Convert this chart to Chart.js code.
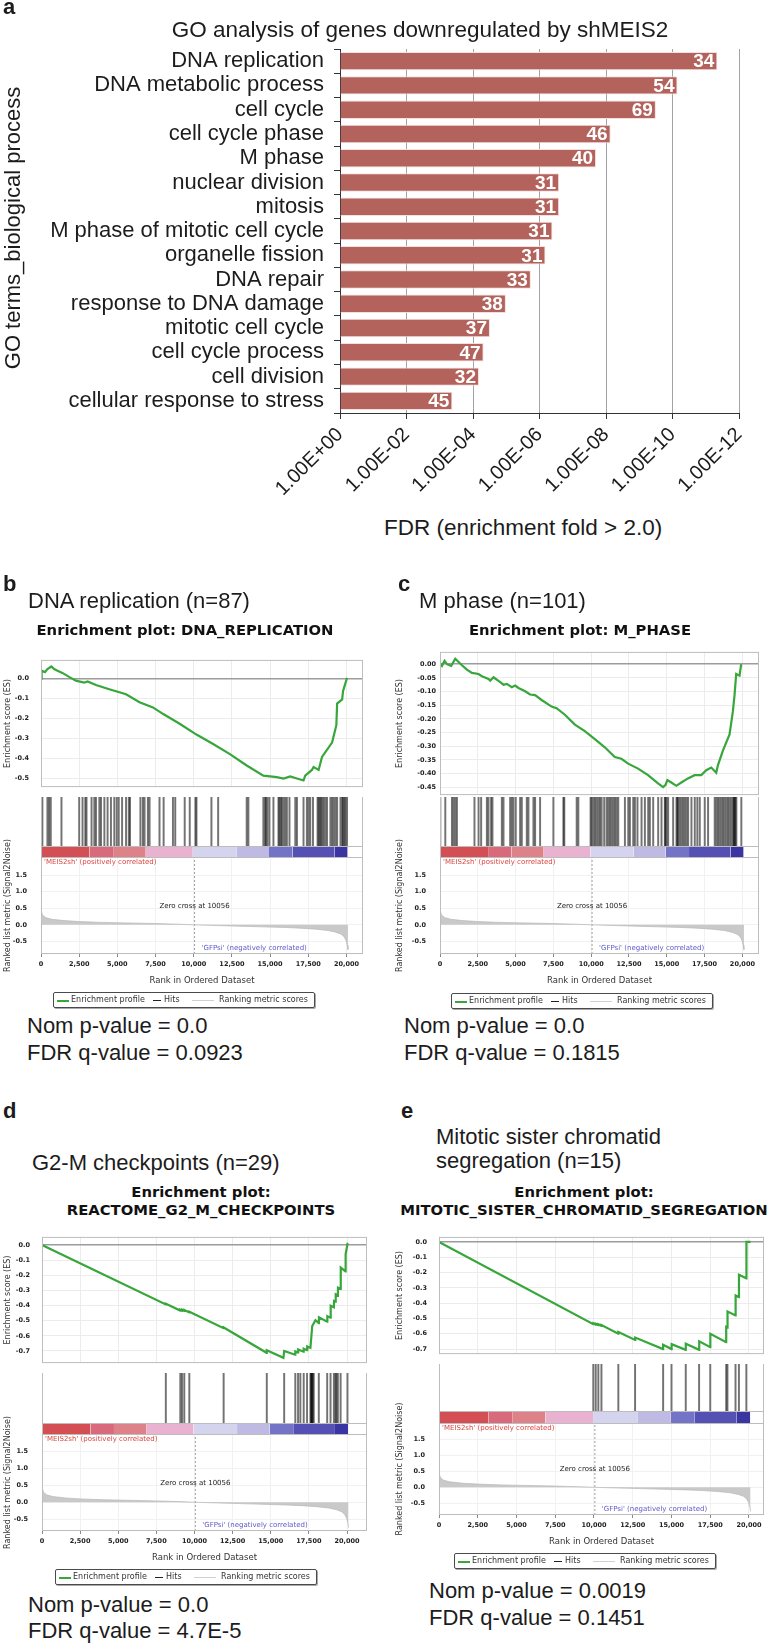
<!DOCTYPE html>
<html>
<head>
<meta charset="utf-8">
<title>GO analysis and GSEA plots (shMEIS2)</title>
<script src="https://cdn.jsdelivr.net/npm/chart.js@4.4.1/dist/chart.umd.min.js"></script>
<style>
  html, body { margin: 0; padding: 0; background: #fff; }
  #fig { position: relative; width: 772px; height: 1647px; overflow: hidden; font-family: "Liberation Sans", Arial, Helvetica, sans-serif; color: #1c1c1c; }
  #fig canvas { position: absolute; }
  .txt { position: absolute; white-space: nowrap; line-height: 1; }
  .big { font-size: 22px; }
  .tag { font-size: 22px; font-weight: bold; }
  .plotTitle { width: 420px; text-align: center; font-family: "DejaVu Sans", sans-serif; font-weight: bold; font-size: 14.8px; line-height: 18px; color: #111; }
  .legend { position: absolute; width: 260px; height: 14px; border: 1px solid #4a4a4a; border-radius: 2px; box-shadow: 1px 1px 0 #aaa; font-family: "DejaVu Sans", sans-serif; font-size: 8px; color: #333; background: #fff; }
  .legend span { position: absolute; }
  .legend .sw { top: 7px; }
  .legend .lt { top: 2px; line-height: 10px; white-space: nowrap; }
</style>
</head>
<body>
<div id="fig"></div>
<script>
// ---- Panel a: GO terms, -log10(FDR) and gene counts ----
const goTerms = ["DNA replication", "DNA metabolic process", "cell cycle", "cell cycle phase", "M phase",
  "nuclear division", "mitosis", "M phase of mitotic cell cycle", "organelle fission", "DNA repair",
  "response to DNA damage", "mitotic cell cycle", "cell cycle process", "cell division", "cellular response to stress"];
const goLogFdr = [11.35, 10.15, 9.50, 8.14, 7.70, 6.59, 6.59, 6.39, 6.18, 5.74, 4.99, 4.51, 4.32, 4.18, 3.38];
const goGeneCounts = [34, 54, 69, 46, 40, 31, 31, 31, 31, 33, 38, 37, 47, 32, 45];
const fdrTicks = [0, 2, 4, 6, 8, 10, 12];
const fdrLabels = ["1.00E+00", "1.00E-02", "1.00E-04", "1.00E-06", "1.00E-08", "1.00E-10", "1.00E-12"];

// ---- GSEA: shared ranked list ----
const rankTicks = [0, 2500, 5000, 7500, 10000, 12500, 15000, 17500, 20000];
const metricTicks = [-0.5, 0, 0.5, 1.0, 1.5];
const zeroCross = 10056;
const metricRanks = [0, 30, 100, 300, 700, 1500, 2500, 4000, 5500, 7500, 9000, 10056, 11500, 13000, 14500, 16000, 17000, 18000, 18800, 19300, 19650, 19850, 19980, 20060, 20100];
const metricValues = [0.55, 0.40, 0.30, 0.22, 0.17, 0.13, 0.10, 0.075, 0.06, 0.04, 0.02, 0, -0.02, -0.04, -0.06, -0.08, -0.10, -0.13, -0.17, -0.22, -0.28, -0.36, -0.48, -0.62, -0.75];
const cbEdges = [0, 3180, 4720, 6860, 9940, 12790, 14930, 16470, 19210, 20080];
const cbColors = ["#d44f53", "#d96a7b", "#de8289", "#e9b2d0", "#d4d4ee", "#bebae4", "#7373c7", "#5551b4", "#3a35a3"];

// b: DNA replication
const esRanksB = [0, 40, 260, 420, 680, 860, 1080, 1400, 1840, 2280, 2830, 3050, 3600, 4470, 5570, 6450, 7330, 7980, 9080, 10180, 11270, 12370, 13470, 14560, 15440, 15880, 16320, 16760, 17190, 17300, 17740, 17850, 18180, 18400, 19060, 19340, 19390, 19720, 19780, 20040];
const esValuesB = [0, 0.040, 0.033, 0.048, 0.061, 0.048, 0.040, 0.029, 0.009, -0.010, -0.020, -0.014, -0.032, -0.053, -0.078, -0.118, -0.144, -0.176, -0.226, -0.280, -0.327, -0.378, -0.435, -0.486, -0.493, -0.500, -0.490, -0.500, -0.510, -0.486, -0.457, -0.442, -0.457, -0.392, -0.320, -0.233, -0.125, -0.104, -0.061, 0.004];
const hitsB = [0, 90, 420, 530, 640, 1340, 2500, 2720, 2900, 2980, 3310, 3490, 3600, 3820, 3930, 4150, 4360, 4580, 4800, 4960, 5090, 5310, 5570, 5750, 5830, 6510, 6670, 6780, 7000, 7110, 7760, 8030, 8640, 8790, 9410, 9740, 10110, 10180, 11160, 11600, 13470, 13580, 14560, 14670, 14740, 14830, 14960, 15220, 15550, 15610, 15700, 15770, 15880, 15990, 16100, 16270, 16650, 16760, 17190, 17410, 17520, 17630, 17810, 18110, 18180, 18250, 18330, 18420, 18510, 18620, 18730, 18950, 19060, 19170, 19280, 19390, 19610, 19720, 19780, 19870, 19930, 20040];

// c: M phase
const esRanksC = [0, 130, 300, 460, 740, 1010, 1230, 1450, 1780, 2110, 2550, 2770, 3210, 3320, 3540, 3980, 4200, 4420, 4750, 4970, 5190, 5630, 5960, 6290, 6720, 7380, 7710, 8260, 8920, 9580, 10240, 10900, 11560, 12000, 12440, 13100, 13760, 14420, 14750, 14910, 15040, 15300, 15630, 15960, 16400, 16840, 17280, 17610, 17940, 18270, 18380, 18710, 19150, 19370, 19480, 19590, 19810, 19920];
const esValuesC = [0.004, -0.006, 0.012, 0.000, -0.006, 0.020, 0.008, -0.004, -0.020, -0.032, -0.036, -0.044, -0.054, -0.060, -0.048, -0.066, -0.075, -0.072, -0.084, -0.078, -0.087, -0.099, -0.111, -0.113, -0.131, -0.155, -0.161, -0.185, -0.221, -0.245, -0.274, -0.304, -0.340, -0.346, -0.364, -0.382, -0.406, -0.436, -0.450, -0.442, -0.424, -0.433, -0.445, -0.433, -0.418, -0.406, -0.406, -0.388, -0.378, -0.397, -0.370, -0.316, -0.257, -0.173, -0.113, -0.036, -0.042, 0.000];
const hitsC = [20, 350, 790, 900, 1010, 1120, 2280, 2550, 2720, 3100, 3210, 3380, 3470, 4090, 4200, 4640, 4750, 4860, 5010, 5300, 5410, 5740, 5850, 6180, 6290, 6620, 7500, 8160, 8220, 9040, 9150, 9960, 10030, 10140, 10250, 10360, 10470, 10580, 10690, 10860, 11020, 11130, 11240, 11350, 11460, 11570, 11680, 11790, 12230, 12450, 12560, 12780, 12890, 13060, 13330, 13550, 13770, 13880, 14100, 14430, 14650, 14870, 14910, 14980, 15090, 15420, 15640, 15700, 15750, 15860, 15970, 16080, 16190, 16300, 16410, 16630, 16850, 17020, 17180, 17510, 17730, 18170, 18280, 18390, 18500, 18610, 18720, 18830, 18940, 19050, 19160, 19270, 19380, 19440, 19490, 19530, 19600, 19930];

// d: G2-M checkpoints
const esRanksD = [0, 8120, 8125, 9065, 9070, 9180, 9185, 9330, 9335, 9660, 9665, 11910, 11915, 14730, 14740, 15830, 15880, 16600, 16610, 16790, 16800, 17150, 17160, 17380, 17390, 17600, 17720, 17930, 18150, 18160, 18700, 18710, 18920, 18930, 19140, 19150, 19250, 19260, 19400, 19410, 19580, 19590, 19900, 19910, 20030, 20100];
const esValuesD = [0, -0.393, -0.388, -0.433, -0.428, -0.433, -0.428, -0.435, -0.430, -0.446, -0.441, -0.550, -0.545, -0.712, -0.695, -0.745, -0.700, -0.725, -0.703, -0.710, -0.690, -0.705, -0.685, -0.695, -0.670, -0.680, -0.535, -0.497, -0.516, -0.478, -0.507, -0.470, -0.480, -0.402, -0.412, -0.370, -0.375, -0.326, -0.333, -0.282, -0.290, -0.150, -0.175, -0.060, 0.005, 0.0];
const hitsD = [8120, 9070, 9180, 9330, 9660, 11910, 14740, 15880, 16610, 16790, 16940, 17160, 17380, 17600, 17650, 17680, 17710, 17750, 17820, 18150, 18700, 18920, 19140, 19250, 19300, 19400, 19580, 20030];

// e: Mitotic sister chromatid segregation
const esRanksE = [0, 9955, 9960, 10111, 10116, 10281, 10286, 10477, 10482, 11566, 11571, 12655, 12660, 14455, 14460, 15003, 15008, 15916, 15921, 16784, 16789, 17501, 17506, 18525, 18530, 18610, 18615, 19132, 19137, 19348, 19353, 19830, 19835, 20100];
const esValuesE = [0, -0.537, -0.532, -0.540, -0.535, -0.543, -0.538, -0.548, -0.543, -0.600, -0.588, -0.640, -0.625, -0.700, -0.672, -0.700, -0.668, -0.705, -0.665, -0.705, -0.650, -0.688, -0.600, -0.655, -0.555, -0.560, -0.455, -0.480, -0.350, -0.360, -0.215, -0.238, 0.0, 0.0];
const hitsE = [9955, 10110, 10280, 10480, 11570, 12650, 14460, 15000, 15920, 16780, 17500, 18530, 18610, 19130, 19350, 19830];

const GREEN = "#37a63b";
const fig = document.getElementById("fig");

Chart.defaults.font.family = "'Liberation Sans', Arial, sans-serif";
Chart.defaults.color = "#1c1c1c";
Chart.defaults.animation = false;
Chart.defaults.responsive = false;
Chart.defaults.devicePixelRatio = 1;
Chart.defaults.plugins.legend.display = false;
Chart.defaults.plugins.tooltip.enabled = false;

// Draws plot box sides and extra horizontal rules (at y values)
Chart.register({
  id: "frame",
  afterDatasetsDraw(chart, args, opts) {
    if (!opts.color) return;
    const { ctx, chartArea: a } = chart;
    const sides = opts.sides || "";
    ctx.save();
    ctx.strokeStyle = opts.color;
    ctx.lineWidth = 1;
    ctx.beginPath();
    if (sides.includes("t")) { ctx.moveTo(a.left, a.top + 0.5); ctx.lineTo(a.right, a.top + 0.5); }
    if (sides.includes("b")) { ctx.moveTo(a.left, a.bottom - 0.5); ctx.lineTo(a.right, a.bottom - 0.5); }
    if (sides.includes("l")) { ctx.moveTo(a.left + 0.5, a.top); ctx.lineTo(a.left + 0.5, a.bottom); }
    if (sides.includes("r")) { ctx.moveTo(a.right - 0.5, a.top); ctx.lineTo(a.right - 0.5, a.bottom); }
    (opts.hlines || []).forEach(v => {
      const y = Math.round(chart.scales.y.getPixelForValue(v)) + 0.5;
      ctx.moveTo(a.left, y); ctx.lineTo(a.right, y);
    });
    ctx.stroke();
    ctx.restore();
  }
});

// Gene counts written at the end of each GO bar
Chart.register({
  id: "countLabels",
  afterDatasetsDraw(chart, args, opts) {
    if (!opts.values) return;
    const { ctx } = chart;
    ctx.save();
    ctx.font = "bold 19px 'Liberation Sans', Arial, sans-serif";
    ctx.fillStyle = "#fff";
    ctx.textAlign = "right";
    ctx.textBaseline = "middle";
    chart.getDatasetMeta(0).data.forEach((bar, i) => ctx.fillText(String(opts.values[i]), bar.x - 3, bar.y + 1));
    ctx.restore();
  }
});

// Phenotype labels and zero-cross note in the ranked list plot
Chart.register({
  id: "notes",
  afterDatasetsDraw(chart, args, opts) {
    if (!opts.zero) return;
    const { ctx, chartArea: a, scales: { x, y } } = chart;
    const zx = x.getPixelForValue(opts.zero);
    ctx.save();
    ctx.font = "7px 'DejaVu Sans', sans-serif";
    ctx.textBaseline = "middle";
    ctx.textAlign = "left";
    ctx.fillStyle = "#d8453f";
    ctx.fillText("'MEIS2sh' (positively correlated)", a.left + 3, a.top + 5);
    ctx.fillStyle = "#5b5bc9";
    ctx.fillText("'GFPsi' (negatively correlated)", zx + 7, a.bottom - 6);
    ctx.fillStyle = "#222";
    ctx.textAlign = "center";
    ctx.fillText("Zero cross at " + opts.zero, zx, y.getPixelForValue(0.55));
    ctx.restore();
  }
});

function addCanvas(left, top, width, height) {
  const cv = document.createElement("canvas");
  cv.width = width; cv.height = height;
  cv.style.left = left + "px"; cv.style.top = top + "px";
  cv.style.width = width + "px"; cv.style.height = height + "px";
  fig.appendChild(cv);
  return cv;
}

function addText(html, left, top, cls, style) {
  const d = document.createElement("div");
  d.className = "txt " + cls;
  d.innerHTML = html;
  d.style.left = left + "px";
  d.style.top = top + "px";
  if (style) Object.assign(d.style, style);
  fig.appendChild(d);
  return d;
}

function addLegend(left, top) {
  const box = document.createElement("div");
  box.className = "legend";
  box.style.left = left + "px";
  box.style.top = top + "px";
  box.innerHTML =
    '<span class="sw" style="left:3px;width:12px;height:2px;background:' + GREEN + '"></span>' +
    '<span class="lt" style="left:17px">Enrichment profile</span>' +
    '<span class="sw" style="left:99px;width:8px;height:1px;background:#222"></span>' +
    '<span class="lt" style="left:110px">Hits</span>' +
    '<span class="sw" style="left:138px;width:22px;height:1px;background:#d0d0d0"></span>' +
    '<span class="lt" style="left:165px">Ranking metric scores</span>';
  fig.appendChild(box);
}

// ---- Panel a ----
new Chart(addCanvas(0, 0, 772, 500), {
  type: "bar",
  data: {
    labels: goTerms,
    datasets: [{ data: goLogFdr, backgroundColor: "#b4625c", borderColor: "#f3e0de", borderWidth: 1, barPercentage: 0.76, categoryPercentage: 1 }]
  },
  options: {
    indexAxis: "y",
    layout: { autoPadding: false, padding: { top: 49, right: 33, bottom: 0, left: 0 } },
    scales: {
      x: {
        min: 0, max: 12,
        afterBuildTicks: s => { s.ticks = fdrTicks.map(v => ({ value: v })); },
        ticks: { font: { size: 20 }, color: "#1c1c1c", minRotation: 45, maxRotation: 45, padding: 4, autoSkip: false, callback: (v, i) => fdrLabels[i] },
        grid: { color: "#a3a3a3", tickColor: "#333", tickLength: 6 },
        border: { color: "#333" },
        afterFit: s => { s.height = 87; }
      },
      y: {
        ticks: { font: { size: 22 }, color: "#1c1c1c", padding: 10, autoSkip: false },
        grid: { drawOnChartArea: false, tickColor: "#333", tickLength: 6 },
        border: { color: "#333" },
        afterFit: s => { s.width = 340; }
      }
    },
    plugins: { countLabels: { values: goGeneCounts } }
  }
});

addText("a", 3, -4, "tag");
addText("GO analysis of genes downregulated by shMEIS2", 420, 19, "big", { fontSize: "22.5px", transform: "translateX(-50%)" });
addText("GO terms_biological process", 13, 228, "big", { transform: "translate(-50%, -50%) rotate(-90deg)" });
addText("FDR (enrichment fold &gt; 2.0)", 384, 517, "big", { fontSize: "22.5px" });

// ---- GSEA panels: running ES, hit marks with colour bar, ranked metric ----
function gseaPanel(p) {
  const colW = 386;
  const axisW = p.L - p.col;
  const padR = p.col + colW - p.R;
  const smallBold = { family: "'DejaVu Sans', sans-serif", size: 6.5, weight: "bold" };
  const titleFont = { family: "'DejaVu Sans', sans-serif", size: 8 };
  const rankAxis = extra => Object.assign({
    type: "linear", min: 0, max: p.rankMax, offset: false,
    afterBuildTicks: s => { s.ticks = rankTicks.map(v => ({ value: v })); }
  }, extra);

  new Chart(addCanvas(p.col, p.esTop - 6, colW, p.esBot - p.esTop + 12), {
    type: "line",
    data: { datasets: [{ data: p.esRanks.map((r, i) => ({ x: r, y: p.esValues[i] })), borderColor: GREEN, borderWidth: 2.2, pointRadius: 0 }] },
    options: {
      layout: { autoPadding: false, padding: { top: 6, bottom: 6, left: 0, right: padR } },
      scales: {
        x: rankAxis({ ticks: { display: false }, grid: { color: "#ececec", drawTicks: false }, border: { display: false }, afterFit: s => { s.height = 0; } }),
        y: {
          min: p.esMin, max: p.esMax,
          afterBuildTicks: s => { s.ticks = p.esTicks.map(v => ({ value: v })); },
          ticks: { font: smallBold, color: "#222", padding: p.esPad, autoSkip: false, callback: v => v.toFixed(p.esDigits) },
          grid: {
            drawTicks: false,
            color: c => (c.tick && c.tick.value === 0 ? "#9c9c9c" : "#ececec"),
            lineWidth: c => (c.tick && c.tick.value === 0 ? 1.5 : 1)
          },
          border: { display: false },
          title: { display: true, text: "Enrichment score (ES)", font: titleFont, color: "#333", padding: { top: p.titlePad, bottom: 0 } },
          afterFit: s => { s.width = axisW; }
        }
      },
      plugins: { frame: { color: "#bdbdbd", sides: "tlrb" } }
    }
  });

  const cbFrac = (p.cbBot - p.hitBot) / (p.cbBot - p.esBot);
  new Chart(addCanvas(p.col, p.esBot, colW, p.cbBot - p.esBot), {
    type: "bar",
    data: {
      datasets: [
        { data: p.hits.map(r => ({ x: r, y: [cbFrac, 1] })), backgroundColor: "rgba(0,0,0,0.55)", barThickness: 1.3, grouped: false },
        ...cbColors.map((c, i) => ({
          type: "line",
          data: [{ x: cbEdges[i], y: cbFrac }, { x: cbEdges[i + 1], y: cbFrac }],
          fill: { value: 0 }, backgroundColor: c, borderWidth: 0, pointRadius: 0
        }))
      ]
    },
    options: {
      layout: { autoPadding: false, padding: { top: 0, bottom: 0, left: axisW, right: padR } },
      scales: { x: rankAxis({ display: false }), y: { min: 0, max: 1, display: false } },
      plugins: { frame: { color: "#bdbdbd", sides: "lr", hlines: [cbFrac] } }
    }
  });

  new Chart(addCanvas(p.col, p.esBot, colW, p.rkBot - p.esBot + 32), {
    type: "line",
    data: {
      datasets: [
        { data: metricRanks.map((r, i) => ({ x: r, y: metricValues[i] })), fill: "origin", backgroundColor: "#c9c9c9", borderColor: "#b8b8b8", borderWidth: 0.7, pointRadius: 0 },
        { data: [{ x: zeroCross, y: p.rkMin }, { x: zeroCross, y: p.rkMax }], borderColor: "#a0a0a0", borderWidth: 1, borderDash: [2, 2], pointRadius: 0 }
      ]
    },
    options: {
      layout: { autoPadding: false, padding: { top: p.cbBot - p.esBot, bottom: 0, left: 0, right: padR } },
      scales: {
        x: rankAxis({
          ticks: { font: smallBold, color: "#222", padding: 3, autoSkip: false, maxRotation: 0, callback: v => v.toLocaleString("en-US") },
          grid: { color: "#f1f1f1", tickLength: 3, tickColor: "#888" },
          border: { display: false },
          title: { display: true, text: "Rank in Ordered Dataset", font: { family: "'DejaVu Sans', sans-serif", size: 8.5 }, color: "#333", padding: 0 },
          afterFit: s => { s.height = 32; }
        }),
        y: {
          min: p.rkMin, max: p.rkMax,
          afterBuildTicks: s => { s.ticks = metricTicks.map(v => ({ value: v })); },
          ticks: { font: smallBold, color: "#222", padding: p.rkPad, autoSkip: false, callback: v => v.toFixed(1) },
          grid: { drawTicks: false, color: "#f1f1f1" },
          border: { display: false },
          title: { display: true, text: "Ranked list metric (Signal2Noise)", font: titleFont, color: "#333", padding: { top: p.titlePad, bottom: 0 } },
          afterFit: s => { s.width = axisW; }
        }
      },
      plugins: { frame: { color: "#bdbdbd", sides: "tlrb" }, notes: { zero: zeroCross } }
    }
  });
}

gseaPanel({ col: 0, L: 41, R: 363, rankMax: 21085, esTop: 650, esBot: 797, hitBot: 846, cbBot: 857, rkBot: 954,
  esMin: -0.543, esMax: 0.094, esTicks: [0, -0.1, -0.2, -0.3, -0.4, -0.5], esDigits: 1, rkMin: -0.88, rkMax: 2.05,
  esPad: 12, rkPad: 14, titlePad: 3, esRanks: esRanksB, esValues: esValuesB, hits: hitsB });
gseaPanel({ col: 386, L: 440, R: 759, rankMax: 21098, esTop: 650, esBot: 797, hitBot: 846, cbBot: 857, rkBot: 954,
  esMin: -0.479, esMax: 0.045, esTicks: [0, -0.05, -0.10, -0.15, -0.20, -0.25, -0.30, -0.35, -0.40, -0.45], esDigits: 2, rkMin: -0.88, rkMax: 2.05,
  esPad: 4, rkPad: 14, titlePad: 9, esRanks: esRanksC, esValues: esValuesC, hits: hitsC });
gseaPanel({ col: 0, L: 42, R: 367, rankMax: 21311, esTop: 1227, esBot: 1373, hitBot: 1423, cbBot: 1434, rkBot: 1531,
  esMin: -0.78, esMax: 0.053, esTicks: [0, -0.1, -0.2, -0.3, -0.4, -0.5, -0.6, -0.7], esDigits: 1, rkMin: -0.85, rkMax: 2.02,
  esPad: 12, rkPad: 14, titlePad: 3, esRanks: esRanksD, esValues: esValuesD, hits: hitsD });
gseaPanel({ col: 386, L: 439, R: 764, rankMax: 20968, esTop: 1227, esBot: 1364, hitBot: 1411, cbBot: 1423, rkBot: 1515,
  esMin: -0.733, esMax: 0.033, esTicks: [0, -0.1, -0.2, -0.3, -0.4, -0.5, -0.6, -0.7], esDigits: 1, rkMin: -0.86, rkMax: 2.0,
  esPad: 12, rkPad: 14, titlePad: 9, esRanks: esRanksE, esValues: esValuesE, hits: hitsE });

// ---- Panel headings, plot titles, statistics and legends ----
addText("b", 3, 573, "tag");
addText("DNA replication (n=87)", 28, 590, "big");
addText("Enrichment plot: DNA_REPLICATION", 185 - 210, 621, "plotTitle");
addText("Nom p-value = 0.0", 27, 1015, "big");
addText("FDR q-value = 0.0923", 27, 1042, "big");
addLegend(53, 992);

addText("c", 398, 573, "tag");
addText("M phase (n=101)", 419, 590, "big");
addText("Enrichment plot: M_PHASE", 580 - 210, 621, "plotTitle");
addText("Nom p-value = 0.0", 404, 1015, "big");
addText("FDR q-value = 0.1815", 404, 1042, "big");
addLegend(451, 993);

addText("d", 3, 1100, "tag");
addText("G2-M checkpoints (n=29)", 32, 1152, "big");
addText("Enrichment plot:<br>REACTOME_G2_M_CHECKPOINTS", 201 - 210, 1183, "plotTitle");
addText("Nom p-value = 0.0", 28, 1594, "big");
addText("FDR q-value = 4.7E-5", 28, 1620, "big");
addLegend(55, 1569);

addText("e", 401, 1100, "tag");
addText("Mitotic sister chromatid<br>segregation (n=15)", 436, 1125, "big", { lineHeight: "24px" });
addText("Enrichment plot:<br>MITOTIC_SISTER_CHROMATID_SEGREGATION", 584 - 210, 1183, "plotTitle");
addText("Nom p-value = 0.0019", 429, 1580, "big");
addText("FDR q-value = 0.1451", 429, 1607, "big");
addLegend(454, 1553);
</script>
</body>
</html>
